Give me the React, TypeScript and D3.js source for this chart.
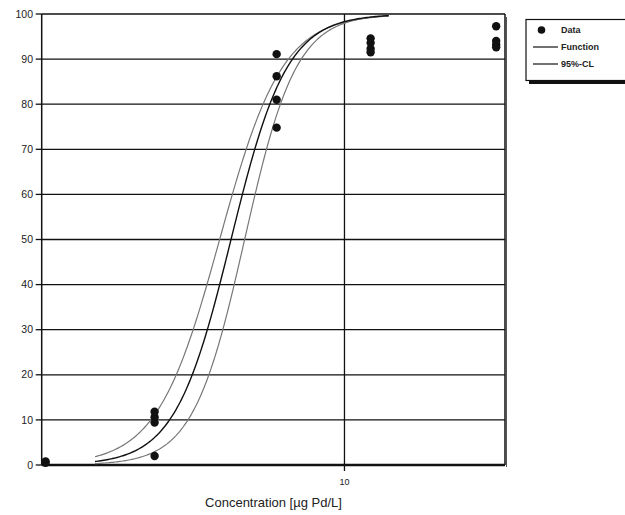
import React from "react";
import * as d3 from "d3";

const yTicks = [0, 10, 20, 30, 40, 50, 60, 70, 80, 90, 100];
const xTicks = [10];
const dataX = [1.03, 1.03, 2.36, 2.36, 2.36, 2.36, 5.97, 5.97, 5.97, 5.97, 12.2, 12.2, 12.2, 12.2, 31.7, 31.7, 31.7, 31.7];
const dataY = [0.5, 0.8, 11.8, 10.6, 9.4, 2.0, 91.1, 86.2, 81.0, 74.8, 94.6, 93.6, 92.3, 91.5, 97.3, 94.0, 93.2, 92.6];
// logistic parameters [EC50, slope] for Function, lower CL, upper CL
const fnParams = [4.22, 4.7];
const clLowParams = [3.87, 4.2];
const clHighParams = [4.68, 5.1];
const curveRange = [1.5, 14];
const legendLabels = ["Data", "Function", "95%-CL"];

const W = 625, H = 515;
const L = 41.7, R = 505, T = 14, B = 465;

function logistic(x: number, p: number[]) {
  return 100 / (1 + Math.pow(10, p[1] * (Math.log10(p[0]) - Math.log10(x))));
}

export default function App() {
  const x = d3.scaleLog().domain([1, 33.9]).range([L, R]);
  const y = d3.scaleLinear().domain([0, 100]).range([B, T]);
  const xs = d3.range(0, 201).map(i => curveRange[0] * Math.pow(curveRange[1] / curveRange[0], i / 200));
  const line = (p: number[]) =>
    d3.line<number>().x(v => x(v)).y(v => y(logistic(v, p))).curve(d3.curveLinear)(xs) || "";
  const font = "Liberation Sans, Arial, sans-serif";
  return (
    <svg width={W} height={H} style={{ position: "absolute", left: 0, top: 0 }}>
      <rect width={W} height={H} fill="white" />
      <defs>
        <clipPath id="plot">
          <rect x={L} y={T - 1} width={R - L} height={B - T + 1} />
        </clipPath>
      </defs>
      {yTicks.map(t => (
        <g key={t}>
          <line x1={L} x2={R} y1={y(t)} y2={y(t)} stroke="#111" strokeWidth={t === 0 ? 2.5 : 1.3} />
          <line x1={L - 6} x2={L} y1={y(t)} y2={y(t)} stroke="#111" strokeWidth={1.3} />
          <text x={33} y={y(t)} dy="0.35em" textAnchor="end" fontFamily={font} fontSize={10.5} fill="#222">{t}</text>
        </g>
      ))}
      {xTicks.map(t => (
        <g key={t}>
          <line x1={x(t)} x2={x(t)} y1={T} y2={B + 6} stroke="#111" strokeWidth={1.3} />
          <text x={x(t)} y={485} textAnchor="middle" fontFamily={font} fontSize={9} fill="#222">{t}</text>
        </g>
      ))}
      <line x1={L} x2={L} y1={T} y2={B} stroke="#111" strokeWidth={1.5} />
      <line x1={R} x2={R} y1={T} y2={B} stroke="#111" strokeWidth={1.5} />
      <line x1={R + 1.5} x2={R + 1.5} y1={T + 3} y2={B + 2} stroke="#555" strokeWidth={1} />
      <g clipPath="url(#plot)">
        <path d={line(clLowParams)} fill="none" stroke="#777" strokeWidth={1.2} />
        <path d={line(clHighParams)} fill="none" stroke="#777" strokeWidth={1.2} />
        <path d={line(fnParams)} fill="none" stroke="#111" strokeWidth={1.4} />
      </g>
      {dataX.map((d, i) => (
        <circle key={i} cx={x(d)} cy={y(dataY[i])} r={4.2} fill="#111" />
      ))}
      <text x={273.5} y={507} textAnchor="middle" fontFamily={font} fontSize={13} fill="#222">Concentration [µg Pd/L]</text>
      <g>
        <rect x={529} y={80} width={100} height={4} fill="#111" />
        <rect x={526} y={19.5} width={100} height={61} fill="white" stroke="#111" strokeWidth={1.2} />
        <circle cx={541.5} cy={30} r={3.8} fill="#111" />
        <line x1={533} x2={558} y1={47} y2={47} stroke="#111" strokeWidth={1.2} />
        <line x1={533} x2={558} y1={64} y2={64} stroke="#111" strokeWidth={1.2} />
        {legendLabels.map((s, i) => (
        <text key={s} x={561} y={30 + i * 17} dy="0.35em" fontFamily={font} fontSize={9} fontWeight="bold" fill="#222">{s}</text>
        ))}
      </g>
    </svg>
  );
}
